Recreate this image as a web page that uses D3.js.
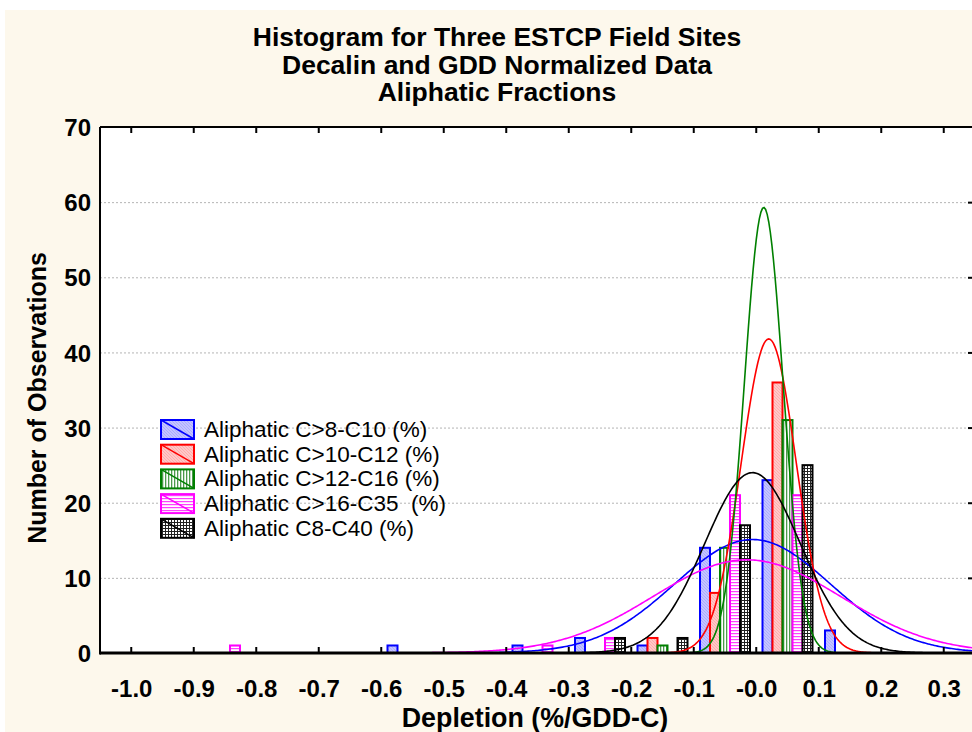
<!DOCTYPE html>
<html><head><meta charset="utf-8">
<script src="https://cdn.jsdelivr.net/npm/d3@7/dist/d3.min.js"></script>
<style>
body{margin:0;background:#fff;}
svg{display:block;font-family:"Liberation Sans",Arial,sans-serif;}
</style>
</head><body>
<svg id="chart" width="972" height="732"></svg>
<script>
// ---------- data ----------
const titleLines = ["Histogram for Three ESTCP Field Sites", "Decalin and GDD Normalized Data", "Aliphatic Fractions"];
const xAxisTitle = "Depletion (%/GDD-C)";
const yAxisTitle = "Number of Observations";
const xTickValues = [-1.0,-0.9,-0.8,-0.7,-0.6,-0.5,-0.4,-0.3,-0.2,-0.1,0.0,0.1,0.2,0.3];
const xTickLabels = ["-1.0","-0.9","-0.8","-0.7","-0.6","-0.5","-0.4","-0.3","-0.2","-0.1","-0.0","0.1","0.2","0.3"];
const yTickValues = [0,10,20,30,40,50,60,70];
const binCenters = [-0.85,-0.75,-0.65,-0.55,-0.45,-0.35,-0.25,-0.15,-0.05,0.05,0.15];
const binWidth = 0.1;
const seriesNames = ["Aliphatic C>8-C10 (%)","Aliphatic C>10-C12 (%)","Aliphatic C>12-C16 (%)","Aliphatic C>16-C35  (%)","Aliphatic C8-C40 (%)"];
const seriesColors = ["#0000ff","#ff0000","#008000","#ff00ff","#000000"];
const countsC8C10   = [0,0,0,1,0,1,2,1,14,23,3];
const countsC10C12  = [0,0,0,0,0,0,0,2,8,36,0];
const countsC12C16  = [0,0,0,0,0,0,0,1,14,31,0];
const countsC16C35  = [1,0,0,0,0,1,2,0,21,21,0];
const countsC8C40   = [0,0,0,0,0,0,2,2,17,25,0];
// fitted normal curves (parameters: centre, spread, peak height)
const fitMeans = [-0.006, 0.020, 0.012, -0.015, -0.006];
const fitSDs   = [0.125, 0.044, 0.031, 0.150, 0.0765];
const fitPeaks = [15.1, 41.8, 59.3, 12.4, 24.0];

const allCounts = [countsC8C10, countsC10C12, countsC12C16, countsC16C35, countsC8C40];

// ---------- layout ----------
const svg = d3.select("#chart");
const W = 972, H = 732;
const plot = {left:100, right:975, top:127, bottom:653};
const x = d3.scaleLinear().domain([-1.05, 0.35]).range([plot.left, plot.right]);
const y = d3.scaleLinear().domain([0, 70]).range([plot.bottom, plot.top]);

// patterns
const defs = svg.append("defs");
function pat(id, w, h, build){
  const p = defs.append("pattern").attr("id", id).attr("patternUnits","userSpaceOnUse")
    .attr("width", w).attr("height", h);
  build(p);
}
pat("pBlue", 3, 3, p => {
  p.append("rect").attr("width",3).attr("height",3).attr("fill","#c4c4ff");
  p.append("path").attr("d","M0,0L3,3M-1,2L1,4M2,-1L4,1").attr("stroke","#a4a4ff").attr("stroke-width",0.8);
});
pat("pRed", 3, 3, p => {
  p.append("rect").attr("width",3).attr("height",3).attr("fill","#ffc8c8");
  p.append("path").attr("d","M0,0L3,3M-1,2L1,4M2,-1L4,1").attr("stroke","#ffa4a4").attr("stroke-width",0.8);
});
pat("pGreen", 3, 3, p => {
  p.append("rect").attr("width",3).attr("height",3).attr("fill","#ffffff");
  p.append("rect").attr("x",0).attr("width",1.3).attr("height",3).attr("fill","#4c9a4c");
});
pat("pMagenta", 3, 3, p => {
  p.append("rect").attr("width",3).attr("height",3).attr("fill","#ffffff");
  p.append("rect").attr("y",0).attr("width",3).attr("height",1.2).attr("fill","#ff40ff");
});
pat("pBlack", 3, 3, p => {
  p.append("rect").attr("width",3).attr("height",3).attr("fill","#ffffff");
  p.append("rect").attr("width",3).attr("height",1).attr("fill","#222");
  p.append("rect").attr("width",1).attr("height",3).attr("fill","#222");
});
const patIds = ["pBlue","pRed","pGreen","pMagenta","pBlack"];

defs.append("clipPath").attr("id","plotClip").append("rect")
  .attr("x",plot.left).attr("y",plot.top).attr("width",plot.right-plot.left).attr("height",plot.bottom-plot.top);

// background
svg.append("rect").attr("width",W).attr("height",H).attr("fill","#ffffff");
svg.append("rect").attr("x",5).attr("y",10).attr("width",W-5).attr("height",H-10).attr("fill","#fdf8ec");
svg.append("rect").attr("x",plot.left).attr("y",plot.top).attr("width",plot.right-plot.left)
  .attr("height",plot.bottom-plot.top).attr("fill","#ffffff");

// gridlines
svg.append("g").selectAll("line").data(yTickValues.filter(v => v>0 && v<70)).join("line")
  .attr("x1",plot.left).attr("x2",plot.right).attr("y1",d=>y(d)+0.5).attr("y2",d=>y(d)+0.5)
  .attr("stroke","#b4b4b4").attr("stroke-width",1).attr("stroke-dasharray","2,2");

// title
svg.append("g").selectAll("text").data(titleLines).join("text")
  .attr("x",497).attr("y",(d,i)=>46+i*27.5).attr("text-anchor","middle")
  .attr("font-size",26.5).attr("font-weight","bold").attr("fill","#000").text(d=>d);

// bars
const barsG = svg.append("g").attr("clip-path","url(#plotClip)");
binCenters.forEach((c, bi) => {
  const sub = d3.scaleBand().domain(d3.range(seriesNames.length))
    .range([x(c - binWidth*0.4), x(c + binWidth*0.4)]).padding(0);
  allCounts.forEach((arr, si) => {
    const v = arr[bi];
    if (!v) return;
    barsG.append("rect")
      .attr("x", sub(si)).attr("y", y(v)).attr("width", sub.bandwidth()).attr("height", y(0)-y(v))
      .attr("fill", `url(#${patIds[si]})`).attr("stroke", seriesColors[si]).attr("stroke-width", 2);
  });
});

// fitted curves
const curveG = svg.append("g").attr("clip-path","url(#plotClip)");
const xs = d3.range(-1.05, 0.3501, 0.0025);
const line = d3.line().x(d=>x(d[0])).y(d=>y(d[1])).curve(d3.curveLinear);
fitMeans.forEach((m, si) => {
  const pts = xs.map(v => [v, fitPeaks[si]*Math.exp(-0.5*Math.pow((v-m)/fitSDs[si],2))]);
  curveG.append("path").attr("d", line(pts)).attr("fill","none")
    .attr("stroke", seriesColors[si]).attr("stroke-width",1.6);
});

// frame & ticks
const frame = svg.append("g");
frame.append("line").attr("x1",plot.left).attr("x2",plot.left).attr("y1",plot.top).attr("y2",plot.bottom+1.5)
  .attr("stroke","#000").attr("stroke-width",2);
frame.append("line").attr("x1",plot.left).attr("x2",plot.right).attr("y1",plot.top).attr("y2",plot.top)
  .attr("stroke","#000").attr("stroke-width",2);
frame.append("line").attr("x1",plot.left).attr("x2",plot.right).attr("y1",plot.bottom).attr("y2",plot.bottom)
  .attr("stroke","#000").attr("stroke-width",3);

const xAxisB = d3.axisBottom(x).tickValues(xTickValues).tickSize(0).tickFormat((d,i)=>xTickLabels[i]);
const gx = svg.append("g").attr("transform",`translate(0,${plot.bottom})`).call(xAxisB);
gx.select(".domain").remove();
gx.selectAll("text").attr("font-size",24).attr("font-weight","bold").attr("fill","#000")
  .attr("font-family","Liberation Sans, Arial, sans-serif").attr("dy",null).attr("y",44);
// inward ticks bottom & top
svg.append("g").selectAll("line").data(xTickValues).join("line")
  .attr("x1",d=>x(d)).attr("x2",d=>x(d)).attr("y1",plot.bottom).attr("y2",plot.bottom-6)
  .attr("stroke","#000").attr("stroke-width",2);
svg.append("g").selectAll("line").data(xTickValues).join("line")
  .attr("x1",d=>x(d)).attr("x2",d=>x(d)).attr("y1",plot.top).attr("y2",plot.top+6)
  .attr("stroke","#000").attr("stroke-width",2);
svg.append("g").selectAll("line").data(yTickValues.filter(v=>v>0&&v<70)).join("line")
  .attr("x1",plot.right-7).attr("x2",plot.right).attr("y1",d=>y(d)+0.5).attr("y2",d=>y(d)+0.5)
  .attr("stroke","#000").attr("stroke-width",2);

const yAxisL = d3.axisLeft(y).tickValues(yTickValues).tickSize(0).tickPadding(9);
const gy = svg.append("g").attr("transform",`translate(${plot.left},0)`).call(yAxisL);
gy.select(".domain").remove();
gy.selectAll("text").attr("font-size",24).attr("font-weight","bold").attr("fill","#000")
  .attr("font-family","Liberation Sans, Arial, sans-serif").attr("dy","0.36em");

// axis titles
svg.append("text").attr("x",535).attr("y",727).attr("text-anchor","middle")
  .attr("font-size",26.8).attr("font-weight","bold").text(xAxisTitle);
svg.append("text").attr("transform","translate(46,398) rotate(-90)").attr("text-anchor","middle")
  .attr("font-size",25).attr("font-weight","bold").text(yAxisTitle);

// legend
const lg = svg.append("g");
seriesNames.forEach((n, i) => {
  const top = 420 + i*24.7;
  lg.append("rect").attr("x",161).attr("y",top).attr("width",33).attr("height",19)
    .attr("fill",`url(#${patIds[i]})`).attr("stroke",seriesColors[i]).attr("stroke-width",2);
  lg.append("line").attr("x1",161).attr("y1",top).attr("x2",194).attr("y2",top+19)
    .attr("stroke",seriesColors[i]).attr("stroke-width",1.5);
  lg.append("text").attr("x",204).attr("y",top+17).attr("font-size",22.5)
    .attr("xml:space","preserve").style("white-space","pre").attr("fill","#000").text(n);
});
</script>
</body></html>
